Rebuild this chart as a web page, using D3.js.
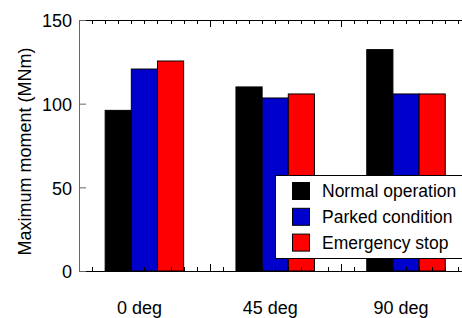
<!DOCTYPE html>
<html>
  <head>
    <meta charset="utf-8">
    <title>Maximum moment</title>
    <script src="https://d3js.org/d3.v7.min.js"></script>
    <style>
      body { margin: 0; background: #fff; }
      svg { display: block; font-family: "Liberation Sans", Arial, Helvetica, sans-serif; }
      .label { font-size: 18px; fill: #000; }
    </style>
  </head>
  <body>
    <svg id="chart" width="462" height="318"></svg>
    <script>
      // data
      var directions = ["0 deg", "45 deg", "90 deg"];
      var seriesNames = ["Normal operation", "Parked condition", "Emergency stop"];
      var normalOperation = [96, 110, 132.3];
      var parkedCondition = [120.7, 103.4, 105.8];
      var emergencyStop = [125.5, 105.8, 105.8];
      var yTicks = [0, 50, 100, 150];
      var colours = ["#000000", "#0000cc", "#ff0000"];

      var seriesValues = [normalOperation, parkedCondition, emergencyStop];

      // name page elements
      svg = d3.select("#chart");
      left = 79;
      right = 471.4;
      top_ = 20;
      bottom = 271;

      // scales
      x = d3.scaleBand()
        .domain(directions)
        .range([left, right])
        .paddingInner(0.4)
        .paddingOuter(0.2);
      xInner = d3.scaleBand()
        .domain(seriesNames)
        .range([0, x.bandwidth()]);
      // continuous version of the category axis, for the minor ticks
      xPos = d3.scaleLinear()
        .domain([-0.5, directions.length - 0.5])
        .range([left, right]);
      y = d3.scaleLinear()
        .domain([0, 150])
        .range([bottom, top_]);

      // bars
      bars = [];
      directions.forEach(function(dir, i) {
        seriesNames.forEach(function(name, j) {
          bars.push({ dir: dir, name: name, value: seriesValues[j][i], colour: colours[j] });
        });
      });
      svg.append("g")
        .selectAll("rect")
          .data(bars)
        .enter().append("rect")
          .attr("x", function(d) { return x(d.dir) + xInner(d.name); })
          .attr("y", function(d) { return y(d.value); })
          .attr("width", xInner.bandwidth())
          .attr("height", function(d) { return y(0) - y(d.value); })
          .style("fill", function(d) { return d.colour; })
          .style("stroke", "#000")
          .style("stroke-width", 1);

      // minor ticks every tenth of a category, major ones between categories
      xTickValues = d3.range(-5, directions.length * 10 - 4).map(function(d) { return d / 10; });
      function isMajor(d) { return Math.abs((d + 0.5) - Math.round(d + 0.5)) < 1e-6; }

      frame = svg.append("g");
      frame.selectAll(".topTick")
          .data(xTickValues)
        .enter().append("line")
          .attr("x1", function(d) { return Math.round(xPos(d)) + 0.5; })
          .attr("x2", function(d) { return Math.round(xPos(d)) + 0.5; })
          .attr("y1", top_)
          .attr("y2", function(d) { return top_ + (isMajor(d) ? 7 : 4); })
          .style("stroke", "#000");
      frame.selectAll(".bottomTick")
          .data(xTickValues)
        .enter().append("line")
          .attr("x1", function(d) { return Math.round(xPos(d)) + 0.5; })
          .attr("x2", function(d) { return Math.round(xPos(d)) + 0.5; })
          .attr("y1", bottom)
          .attr("y2", function(d) { return bottom - (isMajor(d) ? 7 : 4); })
          .style("stroke", "#000");

      // y axis, ticks inward
      yAxis = d3.axisRight(y)
        .tickValues(yTicks)
        .tickSize(7)
        .tickFormat("");
      yAxisGroup = svg.append("g")
        .attr("transform", "translate(" + left + ",0)")
        .call(yAxis);
      yAxisGroup.select(".domain").remove();
      yAxisGroup.selectAll(".tick line").style("stroke", "#666");
      svg.append("g")
        .selectAll("text")
          .data(yTicks)
        .enter().append("text")
          .classed("label", true)
          .attr("x", 72)
          .attr("y", function(d) { return y(d); })
          .attr("dy", "0.4em")
          .style("text-anchor", "end")
          .text(function(d) { return d; });

      // frame lines
      frame.append("line")
        .attr("x1", left).attr("x2", right)
        .attr("y1", top_ + 0.5).attr("y2", top_ + 0.5)
        .style("stroke", "#000");
      frame.append("line")
        .attr("x1", left).attr("x2", right)
        .attr("y1", bottom + 0.5).attr("y2", bottom + 0.5)
        .style("stroke", "#000");
      frame.append("line")
        .attr("x1", left + 0.5).attr("x2", left + 0.5)
        .attr("y1", top_).attr("y2", bottom + 1)
        .style("stroke", "#666");

      // category labels
      svg.append("g")
        .selectAll("text")
          .data(directions)
        .enter().append("text")
          .classed("label", true)
          .attr("x", function(d) { return x(d) + x.bandwidth() / 2 - 5; })
          .attr("y", 314)
          .style("text-anchor", "middle")
          .text(function(d) { return d; });

      // y axis title
      svg.append("text")
        .classed("label", true)
        .attr("transform", "translate(31," + 151.5 + ") rotate(-90)")
        .style("text-anchor", "middle")
        .text("Maximum moment (MNm)");

      // legend
      legend = svg.append("g")
        .attr("transform", "translate(275.5,175.5)");
      legend.append("rect")
        .attr("width", 200)
        .attr("height", 83)
        .style("fill", "#fff")
        .style("stroke", "#000");
      legendItems = legend.selectAll(".item")
          .data(seriesNames)
        .enter().append("g")
          .attr("transform", function(d, i) { return "translate(17," + (7 + i * 25.8) + ")"; });
      legendItems.append("rect")
        .attr("width", 17)
        .attr("height", 17)
        .style("fill", function(d, i) { return colours[i]; })
        .style("stroke", "#000");
      legendItems.append("text")
        .classed("label", true)
        .attr("x", 29.5)
        .attr("y", 8.5)
        .attr("dy", "0.36em")
        .style("font-size", "17.5px")
        .text(function(d) { return d; });
    </script>
  </body>
</html>
